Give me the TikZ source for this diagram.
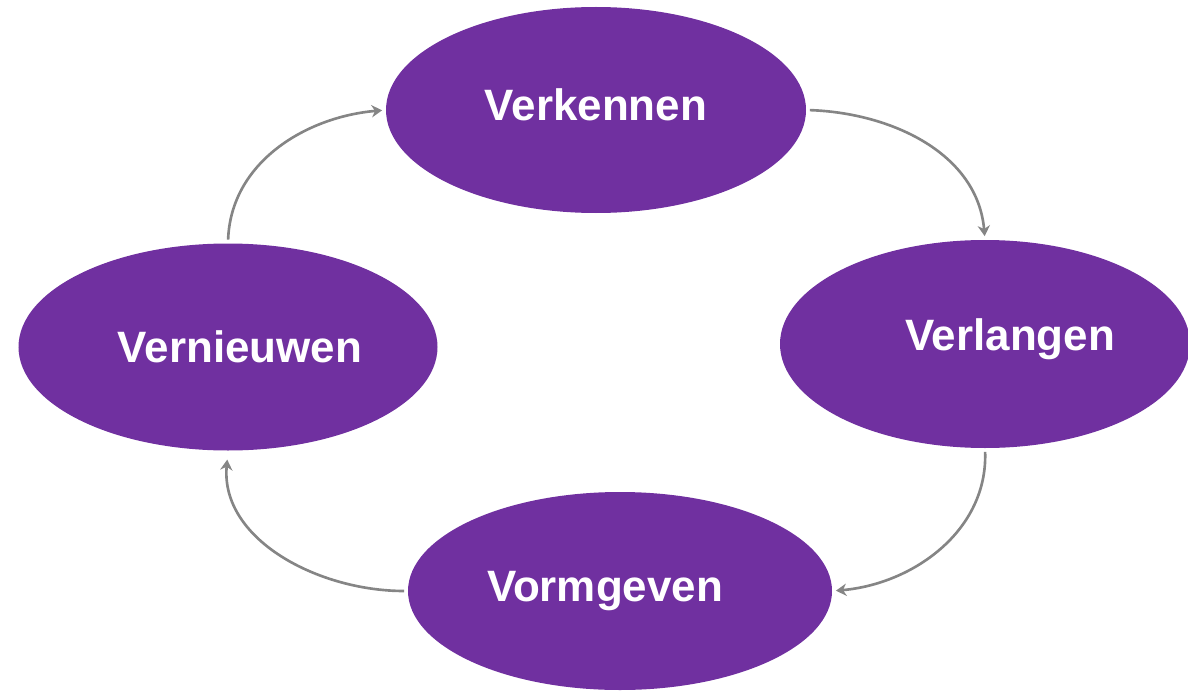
\documentclass[tikz,border=0pt]{standalone}
\usepackage{fontspec}
\setmainfont{Liberation Sans}
\usetikzlibrary{shapes.geometric,arrows.meta,positioning}
\definecolor{paars}{HTML}{7030A0}
\definecolor{pijl}{HTML}{858585}
\tikzstyle{fase} = [ellipse,fill=paars,draw=none,inner sep=0,minimum width=8.4cm,minimum height=4.12cm]
\tikzstyle{naam} = [text=white,font=\fontsize{25}{30}\selectfont\bfseries]
\tikzstyle{stap} = [draw=pijl,line width=1.5pt,-{Stealth[length=6pt,width=7pt]},shorten <=2pt,shorten >=2pt]
\def \dx {0.5cm}

\begin{document}
\begin{tikzpicture}
      \useasboundingbox (0,0) rectangle (23.76,13.96);
      \node[fase] (vk) at (11.92,11.76) {};
      \node[fase,minimum width=8.2cm,minimum height=4.16cm] (vl) at (19.70,7.08) {};
      \node[fase,minimum width=8.48cm,minimum height=3.96cm] (vg) at (12.40,2.14) {};
      \node[fase,minimum width=8.38cm,minimum height=4.14cm] (vn) at (4.56,7.02) {};
      \node[naam] (tvk) at ([yshift=0.1cm]vk.center) {Verkennen};
      \node[naam] (tvl) at ([shift={(\dx,0.1)}]vl.center) {Verlangen};
      \node[naam] (tvg) at ([xshift=-0.3cm]vg.center) {Vormgeven};
      \node[naam] (tvn) at ([xshift=0.24cm]vn.center) {Vernieuwen};
      \draw[stap] (vn.north) to[out=88,in=185] (vk.west);
      \draw[stap] (vk.east) to[out=-2,in=95] (vl.north);
      \draw[stap] (vl.south) to[out=-88,in=5] (vg.east);
      \draw[stap,shorten >=5pt] (vg.west) to[out=180,in=-95] (vn.south);
    \end{tikzpicture}
\end{document}
